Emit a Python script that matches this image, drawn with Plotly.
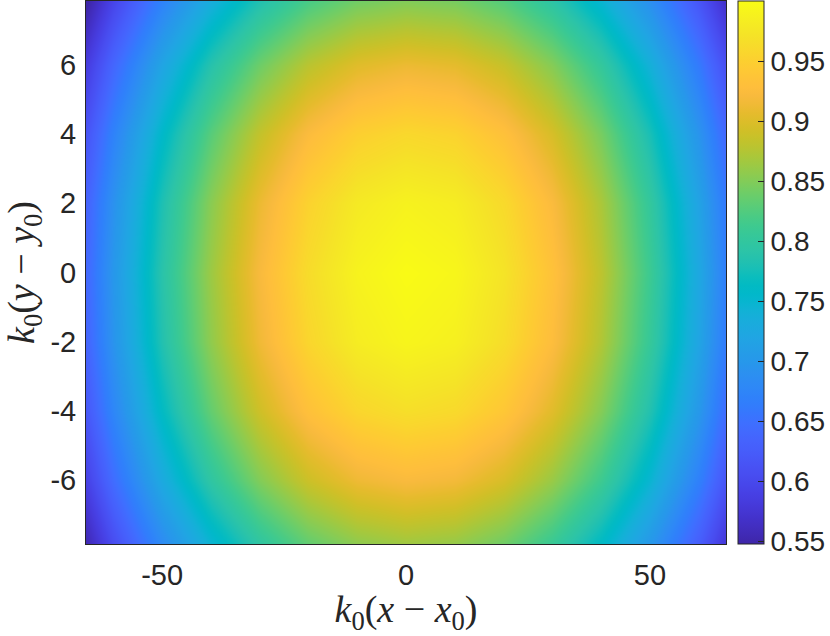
import plotly.graph_objects as go

# ---- data ----
x_centers = [-70, -60, -50, -40, -30, -20, -10, 0, 10, 20, 30, 40, 50, 60, 70]
y_centers = [-8, -6, -4, -2, 0, 2, 4, 6, 8]

row_m8 = [0.5103, 0.6016, 0.6790, 0.7427, 0.7927, 0.8289, 0.8513, 0.8600, 0.8549, 0.8360, 0.8034, 0.7571, 0.6969, 0.6230, 0.5353]
row_m6 = [0.5474, 0.6453, 0.7284, 0.7967, 0.8503, 0.8891, 0.9132, 0.9225, 0.9170, 0.8968, 0.8618, 0.8121, 0.7476, 0.6682, 0.5742]
row_m4 = [0.5736, 0.6762, 0.7633, 0.8348, 0.8910, 0.9317, 0.9569, 0.9667, 0.9609, 0.9397, 0.9031, 0.8510, 0.7834, 0.7003, 0.6017]
row_m2 = [0.5889, 0.6942, 0.7836, 0.8570, 0.9147, 0.9565, 0.9824, 0.9924, 0.9865, 0.9647, 0.9271, 0.8736, 0.8042, 0.7189, 0.6177]
row_0 = [0.5932, 0.6993, 0.7894, 0.8634, 0.9215, 0.9636, 0.9897, 0.9998, 0.9938, 0.9719, 0.9340, 0.8801, 0.8102, 0.7242, 0.6223]
row_p2 = [0.5867, 0.6916, 0.7807, 0.8539, 0.9114, 0.9530, 0.9788, 0.9888, 0.9829, 0.9612, 0.9237, 0.8704, 0.8013, 0.7163, 0.6155]
row_p4 = [0.5692, 0.6710, 0.7575, 0.8284, 0.8842, 0.9246, 0.9496, 0.9593, 0.9536, 0.9325, 0.8962, 0.8445, 0.7774, 0.6949, 0.5971]
row_p6 = [0.5409, 0.6376, 0.7197, 0.7872, 0.8401, 0.8785, 0.9023, 0.9115, 0.9060, 0.8861, 0.8515, 0.8024, 0.7387, 0.6603, 0.5674]
row_p8 = [0.5015, 0.5912, 0.6674, 0.7299, 0.7790, 0.8146, 0.8367, 0.8452, 0.8401, 0.8216, 0.7896, 0.7440, 0.6850, 0.6123, 0.5261]

x_tick_vals = [-50, 0, 50]
x_tick_text = ["-50", "0", "50"]
y_tick_vals = [-6, -4, -2, 0, 2, 4, 6]
y_tick_text = ["-6", "-4", "-2", "0", "2", "4", "6"]
cb_tick_vals = [0.55, 0.6, 0.65, 0.7, 0.75, 0.8, 0.85, 0.9, 0.95]
cb_tick_text = ["0.55", "0.6", "0.65", "0.7", "0.75", "0.8", "0.85", "0.9", "0.95"]

# ---- parula colormap (64 entries) ----
parula = [
    (0.2422, 0.1504, 0.6603), (0.2504, 0.1650, 0.7076), (0.2578, 0.1818, 0.7511), (0.2647, 0.1978, 0.7952),
    (0.2706, 0.2147, 0.8364), (0.2751, 0.2342, 0.8710), (0.2783, 0.2559, 0.8991), (0.2803, 0.2782, 0.9221),
    (0.2813, 0.3006, 0.9414), (0.2810, 0.3228, 0.9579), (0.2795, 0.3447, 0.9717), (0.2760, 0.3667, 0.9829),
    (0.2699, 0.3892, 0.9906), (0.2602, 0.4123, 0.9952), (0.2440, 0.4358, 0.9988), (0.2206, 0.4603, 0.9973),
    (0.1963, 0.4847, 0.9892), (0.1834, 0.5074, 0.9798), (0.1786, 0.5289, 0.9682), (0.1764, 0.5499, 0.9520),
    (0.1687, 0.5703, 0.9359), (0.1540, 0.5902, 0.9218), (0.1460, 0.6091, 0.9079), (0.1380, 0.6276, 0.8973),
    (0.1248, 0.6459, 0.8883), (0.1113, 0.6635, 0.8763), (0.0952, 0.6798, 0.8598), (0.0689, 0.6948, 0.8394),
    (0.0297, 0.7082, 0.8163), (0.0036, 0.7203, 0.7917), (0.0067, 0.7312, 0.7660), (0.0433, 0.7411, 0.7394),
    (0.0964, 0.7500, 0.7120), (0.1408, 0.7584, 0.6842), (0.1717, 0.7670, 0.6554), (0.1938, 0.7758, 0.6251),
    (0.2161, 0.7843, 0.5923), (0.2470, 0.7918, 0.5567), (0.2906, 0.7973, 0.5188), (0.3406, 0.8008, 0.4789),
    (0.3909, 0.8029, 0.4354), (0.4456, 0.8024, 0.3909), (0.5044, 0.7993, 0.3480), (0.5616, 0.7942, 0.3045),
    (0.6174, 0.7876, 0.2612), (0.6720, 0.7793, 0.2227), (0.7242, 0.7698, 0.1910), (0.7738, 0.7598, 0.1646),
    (0.8203, 0.7498, 0.1535), (0.8634, 0.7406, 0.1596), (0.9035, 0.7330, 0.1774), (0.9393, 0.7288, 0.2100),
    (0.9728, 0.7298, 0.2394), (0.9956, 0.7434, 0.2371), (0.9970, 0.7659, 0.2199), (0.9952, 0.7893, 0.2028),
    (0.9892, 0.8136, 0.1885), (0.9786, 0.8386, 0.1766), (0.9676, 0.8639, 0.1643), (0.9610, 0.8890, 0.1537),
    (0.9597, 0.9135, 0.1423), (0.9628, 0.9373, 0.1265), (0.9691, 0.9606, 0.1064), (0.9769, 0.9839, 0.0805),
]
n = len(parula)
colorscale = [
    [i / (n - 1), "rgb(%d,%d,%d)" % (round(r * 255), round(g * 255), round(b * 255))]
    for i, (r, g, b) in enumerate(parula)
]

z = [row_m8, row_m6, row_m4, row_m2, row_0, row_p2, row_p4, row_p6, row_p8]

W, H = 830, 636
ml, mr, mt, mb = 86, 104, 1, 92
plot_w = W - ml - mr

TXT = "#262626"
tick_font = dict(family="Liberation Sans, Arial, sans-serif", size=29, color=TXT)
cb_font = dict(family="Liberation Sans, Arial, sans-serif", size=28, color=TXT)
title_font = dict(family="Liberation Serif, Times New Roman, serif", size=38, color=TXT)

fig = go.Figure(
    go.Heatmap(
        x=x_centers,
        y=y_centers,
        z=z,
        zsmooth="best",
        zmin=0.548,
        zmax=1.0,
        colorscale=colorscale,
        hoverinfo="skip",
        colorbar=dict(
            thicknessmode="pixels",
            thickness=26,
            lenmode="fraction",
            len=1.0,
            y=0.5,
            yanchor="middle",
            x=(738 - ml) / plot_w,
            xanchor="left",
            xpad=0,
            ypad=0,
            outlinecolor=TXT,
            outlinewidth=1,
            tickmode="array",
            tickvals=cb_tick_vals,
            ticktext=cb_tick_text,
            ticks="inside",
            ticklen=6,
            tickwidth=1,
            tickcolor=TXT,
            tickfont=cb_font,
        ),
    )
)

fig.update_layout(
    width=W,
    height=H,
    margin=dict(l=ml, r=mr, t=mt, b=mb, pad=0, autoexpand=False),
    paper_bgcolor="white",
    plot_bgcolor="white",
    xaxis=dict(
        range=[-65.6, 65.6],
        showgrid=False,
        zeroline=False,
        showline=True,
        mirror=True,
        linecolor=TXT,
        linewidth=1,
        ticks="",
        tickmode="array",
        tickvals=x_tick_vals,
        ticktext=x_tick_text,
        tickfont=tick_font,
        ticklabelstandoff=5,
        title=dict(
            text="<i>k</i><sub>0</sub>(<i>x</i> \u2212 <i>x</i><sub>0</sub>)",
            font=title_font,
            standoff=3,
        ),
        automargin=False,
    ),
    yaxis=dict(
        range=[-7.85, 7.85],
        showgrid=False,
        zeroline=False,
        showline=True,
        mirror=True,
        linecolor=TXT,
        linewidth=1,
        ticks="",
        tickmode="array",
        tickvals=y_tick_vals,
        ticktext=y_tick_text,
        tickfont=tick_font,
        ticklabelstandoff=3,
        title=dict(
            text="<i>k</i><sub>0</sub>(<i>y</i> \u2212 <i>y</i><sub>0</sub>)",
            font=title_font,
            standoff=18,
        ),
        automargin=False,
    ),
)

fig.write_html(
    "out.html",
    config={"displayModeBar": False, "staticPlot": True},
    post_script="document.body.style.margin='0';document.body.style.overflow='hidden';",
)
